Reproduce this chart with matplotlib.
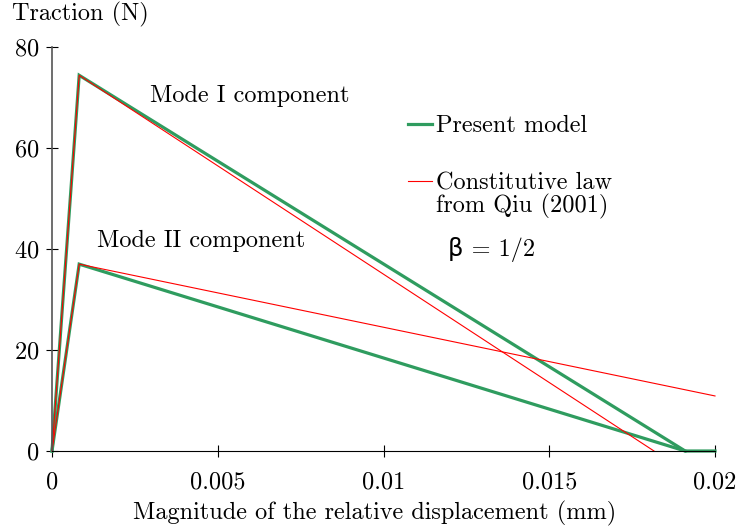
import matplotlib
matplotlib.use("Agg")
import matplotlib.pyplot as plt

plt.rcParams["font.family"] = "serif"
plt.rcParams["font.serif"] = ["cmr10", "DejaVu Serif"]
plt.rcParams["mathtext.fontset"] = "cm"
plt.rcParams["axes.formatter.use_mathtext"] = True

# present model (green)
present_mode1_x = [0, 0.00082, 0.0191, 0.02]
present_mode1_y = [0, 74.4, 0, 0]
present_mode2_x = [0, 0.00082, 0.0191]
present_mode2_y = [0, 37.0, 0]

# Qiu (2001) constitutive law (red)
qiu_mode1_x = [0, 0.00082, 0.01816]
qiu_mode1_y = [0, 74.4, 0]
qiu_mode2_x = [0, 0.00082, 0.02]
qiu_mode2_y = [0, 37.0, 10.9]

xticks = [0, 0.005, 0.01, 0.015, 0.02]
xtick_labels = ["0", "0.005", "0.01", "0.015", "0.02"]
yticks = [0, 20, 40, 60, 80]

green = "#2f9c5f"
fs = 17.5

fig = plt.figure(figsize=(7.37, 5.29), dpi=100)
ax = fig.add_axes([52 / 737, 1 - 451 / 529, 663 / 737, 404 / 529])

ax.plot(present_mode1_x, present_mode1_y, color=green, lw=2.3, label="Present model",
        solid_joinstyle="miter")
ax.plot(present_mode2_x, present_mode2_y, color=green, lw=2.3, solid_joinstyle="miter")
ax.plot(qiu_mode1_x, qiu_mode1_y, color="red", lw=0.8, label="Constitutive law")
ax.plot(qiu_mode2_x, qiu_mode2_y, color="red", lw=0.8)

ax.set_xlim(0, 0.02)
ax.set_ylim(0, 80)
ax.set_xticks(xticks)
ax.set_xticklabels(xtick_labels)
ax.set_yticks(yticks)
ax.tick_params(direction="inout", length=8, width=0.8, labelsize=fs)
ax.tick_params(axis="x", pad=11)
ax.tick_params(axis="y", pad=5)
for s in ["top", "right"]:
    ax.spines[s].set_visible(False)
ax.spines["left"].set_color("#555555")
ax.spines["left"].set_linewidth(1.2)
for ln in ax.lines:
    ln.set_clip_on(False)

ax.set_xlabel("Magnitude of the relative displacement (mm)", fontsize=fs, labelpad=5)
ax.xaxis.label.set_x((375 - 52) / 663)
fig.text(12 / 737, 1 - 14 / 529, "Traction (N)", fontsize=fs, va="center", ha="left")

ax.text(0.00296, 70.3, "Mode I component", fontsize=fs, va="center")
ax.text(0.00136, 41.5, "Mode II component", fontsize=fs, va="center")
ax.text(0.01195, 40, "β = 1/2", fontsize=fs, va="center",
        family=["cmr10", "DejaVu Sans"])

ax.legend(loc="upper left", bbox_to_anchor=((408 - 52) / 663, (451 - 115) / 404),
          frameon=False, fontsize=fs, handlelength=1.0, handletextpad=0.17,
          labelspacing=1.45, borderpad=0, borderaxespad=0)
ax.text((436 - 52) / 663, (451 - 206) / 404, "from Qiu (2001)", fontsize=fs,
        va="center", transform=ax.transAxes)

fig.savefig("out.png", dpi=100)
